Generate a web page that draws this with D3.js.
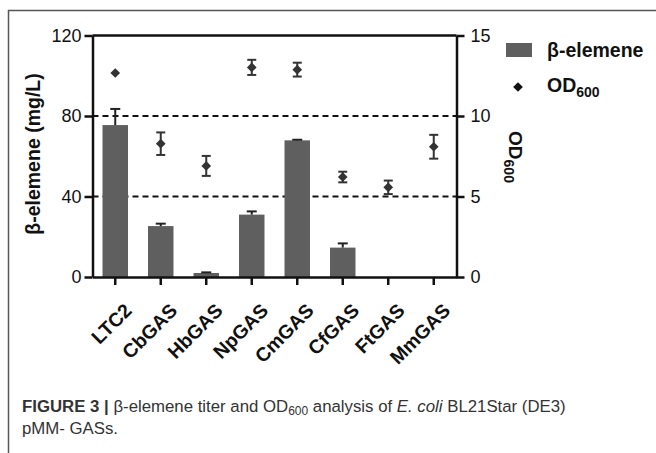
<!DOCTYPE html>
<html>
<head>
<meta charset="utf-8">
<script src="https://cdn.jsdelivr.net/npm/d3@7"></script>
<style>
  body { margin: 0; background: #fff; }
  svg { font-family: "Liberation Sans", Arial, sans-serif; }
</style>
</head>
<body>
<div id="chart-area"></div>
<script>
// data
var categories = ["LTC2", "CbGAS", "HbGAS", "NpGAS", "CmGAS", "CfGAS", "FtGAS", "MmGAS"];
var titer      = [75.5, 25.3, 2.0, 31.0, 67.9, 14.6, 0, 0];     // mg/L
var titerErr   = [8.0, 1.2, 0.3, 1.6, 0.3, 2.1, 0, 0];
var od600      = [12.67, 8.28, 6.9, 13.02, 12.88, 6.21, 5.57, 8.09];
var od600Err   = [0, 0.7, 0.62, 0.47, 0.43, 0.33, 0.42, 0.74];
var leftTicks  = [0, 40, 80, 120];
var rightTicks = [0, 5, 10, 15];
var gridLeft   = [40, 80];

var data = categories.map(function(c, i) {
	return { name: c, titer: titer[i], tErr: titerErr[i], od: od600[i], oErr: od600Err[i] };
});

var svg = d3.select("#chart-area")
	.append("svg")
	.attr("width", 656)
	.attr("height", 453);

// figure frame (top + left only)
svg.append("line").attr("x1", 8).attr("x2", 656).attr("y1", 10.5).attr("y2", 10.5)
	.attr("stroke", "#555").attr("stroke-width", 1.5);
svg.append("line").attr("x1", 8.5).attr("x2", 8.5).attr("y1", 10).attr("y2", 453)
	.attr("stroke", "#555").attr("stroke-width", 1.5);

var plot = { left: 92.5, right: 456.5, top: 35.5, bottom: 277 };
var barColor = "#5f5f5f";
var ink = "#111";

var x = d3.scaleBand()
	.domain(categories)
	.range([plot.left, plot.right])
	.paddingInner(0.44)
	.paddingOuter(0.22);

var xc = d3.scaleBand().domain(categories).range([plot.left, plot.right]);

var y = d3.scaleLinear().domain([0, 120]).range([plot.bottom, plot.top]);
var y2 = d3.scaleLinear().domain([0, 15]).range([plot.bottom, plot.top]);

// dashed reference lines
svg.selectAll(".grid")
	.data(gridLeft)
	.enter().append("line")
	.attr("x1", plot.left).attr("x2", plot.right)
	.attr("y1", function(d){ return y(d); })
	.attr("y2", function(d){ return y(d); })
	.attr("stroke", ink).attr("stroke-width", 2)
	.attr("stroke-dasharray", "6,4");

// bars
svg.selectAll(".bar")
	.data(data)
	.enter().append("rect")
	.attr("x", function(d){ return x(d.name); })
	.attr("y", function(d){ return y(d.titer); })
	.attr("width", x.bandwidth())
	.attr("height", function(d){ return plot.bottom - y(d.titer); })
	.attr("fill", barColor);

// bar error bars (upper only)
var be = svg.selectAll(".berr")
	.data(data.filter(function(d){ return d.titer > 0; }))
	.enter().append("g")
	.attr("stroke", "#222").attr("stroke-width", 2);
be.append("line")
	.attr("x1", function(d){ return xc(d.name) + xc.bandwidth() / 2; })
	.attr("x2", function(d){ return xc(d.name) + xc.bandwidth() / 2; })
	.attr("y1", function(d){ return y(d.titer); })
	.attr("y2", function(d){ return y(d.titer + d.tErr); });
be.append("line")
	.attr("x1", function(d){ return xc(d.name) + xc.bandwidth() / 2 - 5; })
	.attr("x2", function(d){ return xc(d.name) + xc.bandwidth() / 2 + 5; })
	.attr("y1", function(d){ return y(d.titer + d.tErr); })
	.attr("y2", function(d){ return y(d.titer + d.tErr); });

// OD600 error bars
var oe = svg.selectAll(".oerr")
	.data(data.filter(function(d){ return d.oErr > 0; }))
	.enter().append("g")
	.attr("stroke", "#333").attr("stroke-width", 2);
oe.append("line")
	.attr("x1", function(d){ return xc(d.name) + xc.bandwidth() / 2; })
	.attr("x2", function(d){ return xc(d.name) + xc.bandwidth() / 2; })
	.attr("y1", function(d){ return y2(d.od - d.oErr); })
	.attr("y2", function(d){ return y2(d.od + d.oErr); });
[-1, 1].forEach(function(s) {
	oe.append("line")
		.attr("x1", function(d){ return xc(d.name) + xc.bandwidth() / 2 - 4.5; })
		.attr("x2", function(d){ return xc(d.name) + xc.bandwidth() / 2 + 4.5; })
		.attr("y1", function(d){ return y2(d.od + s * d.oErr); })
		.attr("y2", function(d){ return y2(d.od + s * d.oErr); });
});

// OD600 diamonds
var diamond = d3.symbol().type(d3.symbolDiamond2).size(60);
svg.selectAll(".pt")
	.data(data)
	.enter().append("path")
	.attr("d", diamond)
	.attr("transform", function(d){
		return "translate(" + (xc(d.name) + xc.bandwidth() / 2) + "," + y2(d.od) + ")";
	})
	.attr("fill", "#333");

// axes
function styleAxis(g) {
	g.selectAll("path, line").attr("stroke", ink).attr("stroke-width", 2.5);
	g.selectAll("text").attr("fill", ink).attr("font-size", "18px")
		.attr("font-family", "'Liberation Sans', Arial, sans-serif");
}

var yAxisCall = d3.axisLeft(y).tickValues(leftTicks).tickSize(8).tickSizeOuter(0).tickPadding(3);
svg.append("g")
	.attr("transform", "translate(" + plot.left + ",0)")
	.call(yAxisCall)
	.call(styleAxis);

var y2AxisCall = d3.axisRight(y2).tickValues(rightTicks).tickSize(8).tickSizeOuter(0).tickPadding(6);
svg.append("g")
	.attr("transform", "translate(" + plot.right + ",0)")
	.call(y2AxisCall)
	.call(styleAxis);

// top frame line
svg.append("line")
	.attr("x1", plot.left).attr("x2", plot.right)
	.attr("y1", y(120)).attr("y2", y(120))
	.attr("stroke", ink).attr("stroke-width", 2.5);

var xAxisCall = d3.axisBottom(xc).tickSize(8).tickSizeOuter(0);
var xg = svg.append("g")
	.attr("transform", "translate(0," + plot.bottom + ")")
	.call(xAxisCall)
	.call(styleAxis);
xg.selectAll("text")
	.attr("font-weight", "bold")
	.attr("font-size", "19.5px")
	.attr("text-anchor", "end")
	.attr("dy", "0")
	.attr("transform", "translate(10,27) rotate(-45)");

// axis titles
svg.append("text")
	.attr("x", -154)
	.attr("y", 40)
	.attr("transform", "rotate(-90)")
	.attr("text-anchor", "middle")
	.attr("font-size", "19.5px")
	.attr("font-weight", "bold")
	.attr("fill", ink)
	.text("β-elemene (mg/L)");

var rt = svg.append("text")
	.attr("x", 157)
	.attr("y", -509)
	.attr("transform", "rotate(90)")
	.attr("text-anchor", "middle")
	.attr("font-size", "19px")
	.attr("font-weight", "bold")
	.attr("fill", ink);
rt.append("tspan").text("OD");
rt.append("tspan").attr("font-size", "14px").attr("dy", 5).text("600");

// legend
svg.append("rect")
	.attr("x", 506).attr("y", 43)
	.attr("width", 26).attr("height", 14)
	.attr("fill", barColor);
svg.append("text")
	.attr("x", 547).attr("y", 57)
	.attr("font-size", "19.5px").attr("font-weight", "bold").attr("fill", ink)
	.text("β-elemene");
svg.append("path")
	.attr("d", diamond)
	.attr("transform", "translate(518,87)")
	.attr("fill", ink);
var lt = svg.append("text")
	.attr("x", 547).attr("y", 92)
	.attr("font-size", "19.5px").attr("font-weight", "bold").attr("fill", ink);
lt.append("tspan").text("OD");
lt.append("tspan").attr("font-size", "14px").attr("dy", 5).text("600");

// caption
var cap = svg.append("text")
	.attr("x", 22).attr("y", 412)
	.attr("font-size", "16.8px").attr("fill", "#333");
cap.append("tspan").attr("font-weight", "bold").text("FIGURE 3 | ");
cap.append("tspan").text("β-elemene titer and OD");
cap.append("tspan").attr("font-size", "12px").attr("dy", 3).text("600");
cap.append("tspan").attr("dy", -3).text(" analysis of ");
cap.append("tspan").attr("font-style", "italic").text("E. coli");
cap.append("tspan").text(" BL21Star (DE3)");
svg.append("text")
	.attr("x", 22).attr("y", 434)
	.attr("font-size", "16.8px").attr("fill", "#333")
	.text("pMM- GASs.");
</script>
</body>
</html>
